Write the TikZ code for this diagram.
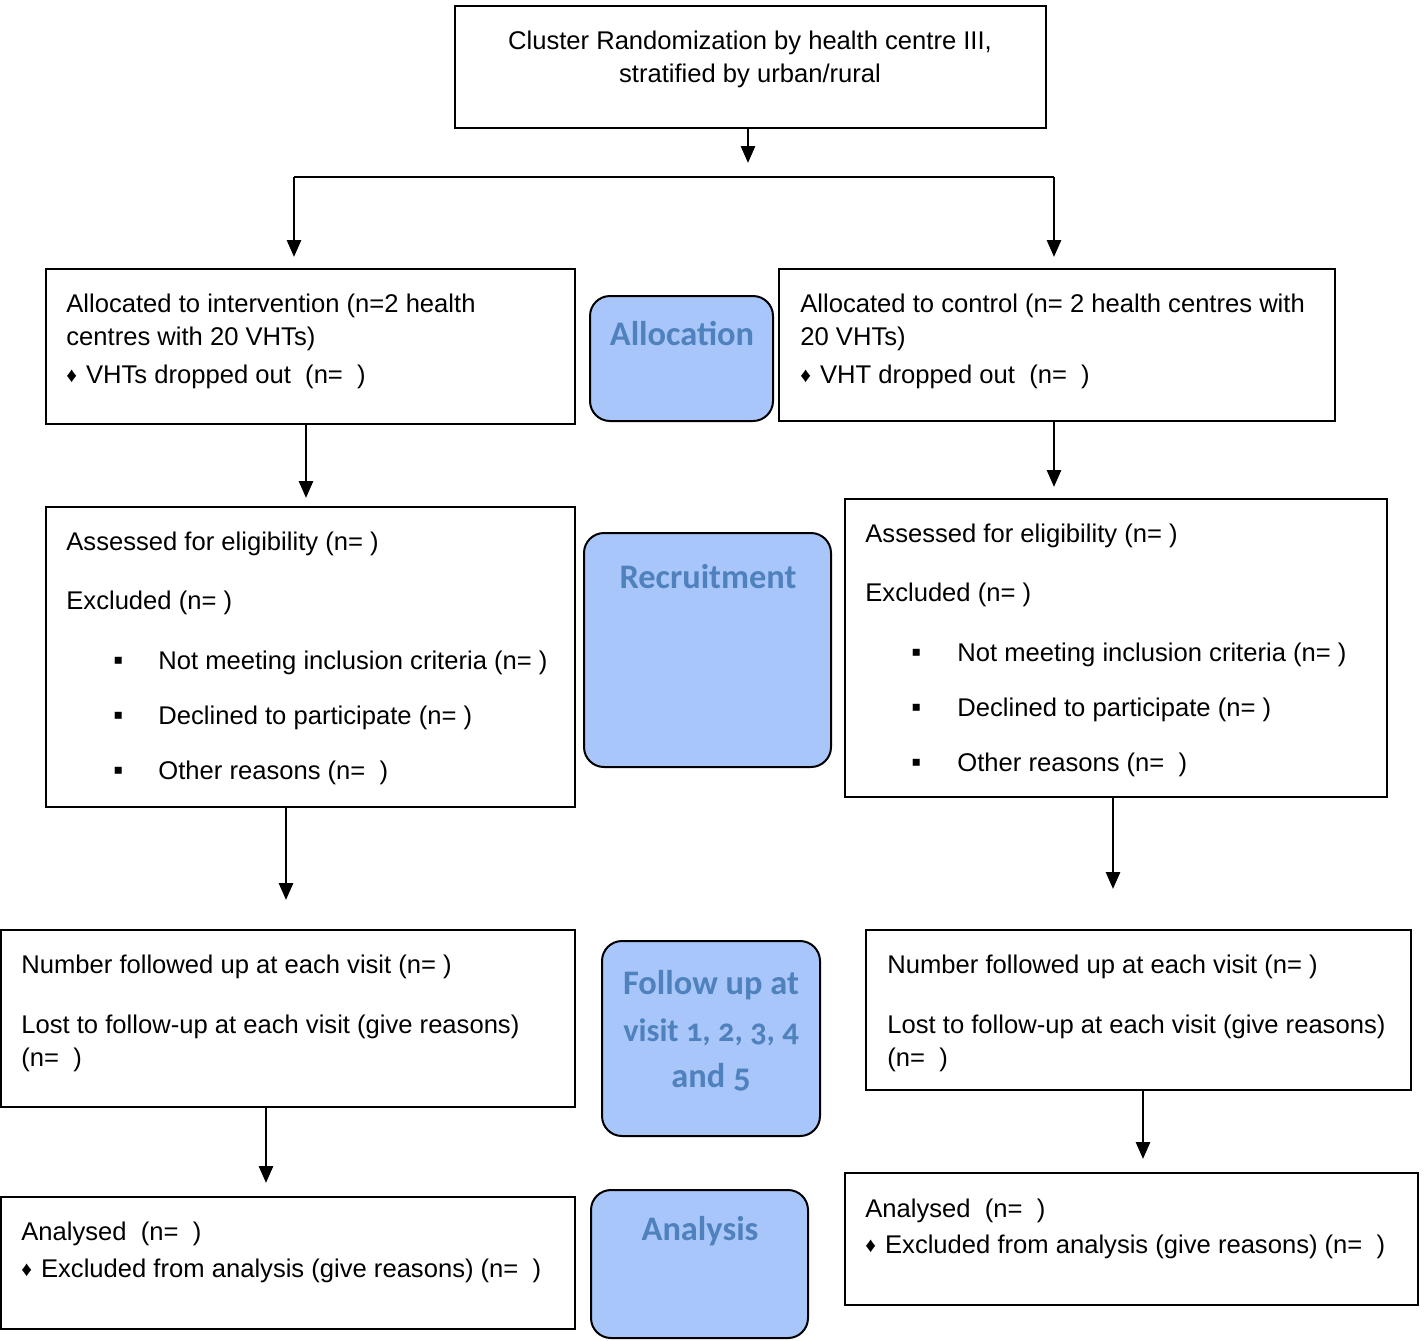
\documentclass[tikz,border=0pt]{standalone}
\usepackage{fontspec}
\setmainfont{Liberation Sans}
\newfontfamily\phasefont[Numbers=OldStyle]{Carlito}
\usetikzlibrary{arrows.meta}
\definecolor{phasefill}{RGB}{168,198,250}
\definecolor{phasetext}{RGB}{79,129,189}
\newcommand{\boxat}[6][box]{\node[#1, minimum width={(#5-#3)*0.5pt}, minimum height={(#6-#4)*0.5pt}] (#2) at ({(#3+#5)/2},{(#4+#6)/2}) {};}
\newcommand{\dia}{{\fontsize{10.5}{10}\selectfont\raisebox{0.3pt}{♦}}\hspace{4.5pt}}
\newcommand{\sq}{{\fontsize{14}{14}\selectfont ▪}}
\begin{document}
\begin{tikzpicture}[x=0.5pt,y=-0.5pt,
 box/.style={draw, line width=1pt, inner sep=0},
 phase/.style={draw, line width=1pt, fill=phasefill, rounded corners=10pt, inner sep=0},
 txt/.style={anchor=base west, inner sep=0, font=\fontsize{12.8}{15}\selectfont},
 ctxt/.style={anchor=base, inner sep=0, font=\fontsize{12.8}{15}\selectfont},
 ptxt/.style={anchor=base, inner sep=0, font=\phasefont\bfseries\fontsize{17.2}{20}\selectfont, text=phasetext},
 arr/.style={-{Triangle[width=7pt,length=8.5pt]}, line width=1.4pt}]
\useasboundingbox (0,0) rectangle (1424,1340);

% boxes
\boxat{top}{455}{6}{1046}{128}
\boxat{allocL}{46}{269}{575}{424}
\boxat{allocR}{779}{269}{1335}{421}
\boxat{assL}{46}{507}{575}{807}
\boxat{assR}{845}{499}{1387}{797}
\boxat{folL}{1}{930}{575}{1107}
\boxat{folR}{866}{930}{1411}{1090}
\boxat{anaL}{1}{1197}{575}{1329}
\boxat{anaR}{845}{1173}{1418}{1305}
% phase boxes
\boxat[phase]{pAlloc}{590}{296}{773}{421}
\boxat[phase]{pRecr}{584}{533}{831}{767}
\boxat[phase]{pFol}{602}{941}{820}{1136}
\boxat[phase]{pAna}{591}{1190}{808}{1338}

% top text
\node[ctxt] (t1) at (750,49) {Cluster Randomization by health centre III,};
\node[ctxt] (t2) at (750,82) {stratified by urban/rural};

% allocation
\node[txt] (aL1) at (66,312) {Allocated to intervention (n=2 health};
\node[txt] (aL2) at (66,345) {centres with 20 VHTs)};
\node[txt] (aL3) at (66,383) {\dia VHTs dropped out~~(n=~~)};
\node[txt] (aR1) at (800,312) {Allocated to control (n= 2 health centres with};
\node[txt] (aR2) at (800,345) {20 VHTs)};
\node[txt] (aR3) at (800,383) {\dia VHT dropped out~~(n=~~)};

% assessment
\node[txt] (sL1) at (66,550) {Assessed for eligibility (n= )};
\node[txt] (sL2) at (66,609) {Excluded (n= )};
\node[txt] (sLb1) at (113,669) {\sq};
\node[txt] (sLb2) at (113,724) {\sq};
\node[txt] (sLb3) at (113,779) {\sq};
\node[txt] (sL3) at (158,669) {Not meeting inclusion criteria (n= )};
\node[txt] (sL4) at (158,724) {Declined to participate (n= )};
\node[txt] (sL5) at (158,779) {Other reasons (n=~~)};

\node[txt] (sR1) at (865,542) {Assessed for eligibility (n= )};
\node[txt] (sR2) at (865,601) {Excluded (n= )};
\node[txt] (sRb1) at (911,661) {\sq};
\node[txt] (sRb2) at (911,716) {\sq};
\node[txt] (sRb3) at (911,771) {\sq};
\node[txt] (sR3) at (957,661) {Not meeting inclusion criteria (n= )};
\node[txt] (sR4) at (957,716) {Declined to participate (n= )};
\node[txt] (sR5) at (957,771) {Other reasons (n=~~)};

% follow-up
\node[txt] (fL1) at (21,973) {Number followed up at each visit (n= )};
\node[txt] (fL2) at (21,1033) {Lost to follow-up at each visit (give reasons)};
\node[txt] (fL3) at (21,1066) {(n=~~)};
\node[txt] (fR1) at (887,973) {Number followed up at each visit (n= )};
\node[txt] (fR2) at (887,1033) {Lost to follow-up at each visit (give reasons)};
\node[txt] (fR3) at (887,1066) {(n=~~)};

% analysis
\node[txt] (nL1) at (21,1240) {Analysed~~(n=~~)};
\node[txt] (nL2) at (21,1277) {\dia Excluded from analysis (give reasons) (n=~~)};
\node[txt] (nR1) at (865,1217) {Analysed~~(n=~~)};
\node[txt] (nR2) at (865,1253) {\dia Excluded from analysis (give reasons) (n=~~)};

% phase labels
\node[ptxt] (pt1) at (682,345) {Allocation};
\node[ptxt] (pt2) at (708,588) {Recruitment};
\node[ptxt] (pt3) at (711,994) {Follow up at};
\node[ptxt, font=\phasefont\bfseries\fontsize{16.2}{20}\selectfont] (pt4) at (711,1041) {visit 1, 2, 3, 4};
\node[ptxt] (pt5) at (711,1087) {and 5};
\node[ptxt] (pt6) at (700,1240) {Analysis};

% connectors
\coordinate (c0) at (748,163);
\coordinate (sl) at (294,177);
\coordinate (sr) at (1054,177);
\coordinate (c1) at (294,257);
\coordinate (c2) at (1054,257);
\coordinate (c3) at (306,498);
\coordinate (c4) at (1054,487);
\coordinate (c5) at (286,900);
\coordinate (c6) at (1113,889);
\coordinate (c7) at (266,1183);
\coordinate (c8) at (1143,1159);

\draw[arr] (c0 |- top.south) -- (c0);
\draw[line width=1.4pt] (sl) -- (sr);
\draw[arr] (sl) -- (c1);
\draw[arr] (sr) -- (c2);
\draw[arr] (c3 |- allocL.south) -- (c3);
\draw[arr] (c4 |- allocR.south) -- (c4);
\draw[arr] (c5 |- assL.south) -- (c5);
\draw[arr] (c6 |- assR.south) -- (c6);
\draw[arr] (c7 |- folL.south) -- (c7);
\draw[arr] (c8 |- folR.south) -- (c8);
\end{tikzpicture}
\end{document}
